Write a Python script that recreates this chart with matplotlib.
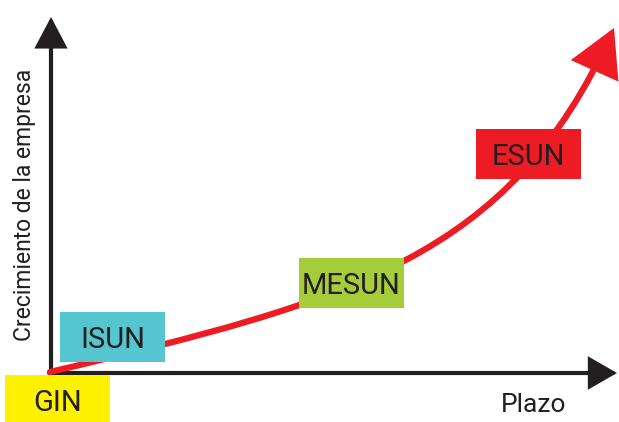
import matplotlib
matplotlib.use("Agg")
import matplotlib.pyplot as plt
from matplotlib.patches import FancyArrowPatch, Rectangle, ArrowStyle
from matplotlib.path import Path

# stages of the company growth diagram (canvas in pixel units, y down)
stages = ["GIN", "ISUN", "MESUN", "ESUN"]
stage_colors = ["#FFF200", "#55C5D0", "#A5CD39", "#ED1C24"]
stage_x = [57.5, 112.5, 351.5, 528.5]
stage_y = [400, 337, 283, 154]
box_w, box_h = 105, 50

# growth curve (cubic bezier: start, two controls, end)
curve_x = [50, 350, 510, 614]
curve_y = [372, 301, 258, 28]

ink = "#231F20"
red = "#ED1C24"

plt.rcParams['font.family'] = ['Roboto', 'DejaVu Sans']

fig = plt.figure(figsize=(6.19, 4.22), dpi=100)
ax = fig.add_axes([0, 0, 1, 1])
ax.set_xlim(0, 619)
ax.set_ylim(422, 0)
ax.axis("off")

# axes arrows
ax.add_patch(FancyArrowPatch((51, 375), (51, 17),
                             arrowstyle=ArrowStyle("-|>", head_length=18, head_width=9.5),
                             color=ink, lw=3, shrinkA=0, shrinkB=0, joinstyle="miter", zorder=2))
ax.add_patch(FancyArrowPatch((49, 373), (617, 373),
                             arrowstyle=ArrowStyle("-|>", head_length=16.5, head_width=9.5),
                             color=ink, lw=3, shrinkA=0, shrinkB=0, joinstyle="miter", zorder=2))

# red growth arrow
verts = list(zip(curve_x, curve_y))
path = Path(verts, [Path.MOVETO, Path.CURVE4, Path.CURVE4, Path.CURVE4])
ax.add_patch(FancyArrowPatch(path=path,
                             arrowstyle=ArrowStyle("-|>", head_length=27, head_width=15),
                             color=red, lw=4.5, joinstyle="miter", zorder=3))

# stage boxes
for name, c, x, y in zip(stages, stage_colors, stage_x, stage_y):
    ax.add_patch(Rectangle((x - box_w / 2, y - box_h / 2), box_w, box_h,
                           facecolor=c, edgecolor="none", zorder=4))
    ax.text(x, y + 11, name, ha="center", va="baseline", fontsize=21,
            color=ink, zorder=5)

ax.text(534, 412, "Plazo", ha="center", va="baseline", fontsize=19, color=ink)
ax.text(25, 205, "Crecimiento de la empresa", ha="center", va="center",
        rotation=90, fontsize=16.5, color=ink)

fig.savefig("out.png", dpi=100)
